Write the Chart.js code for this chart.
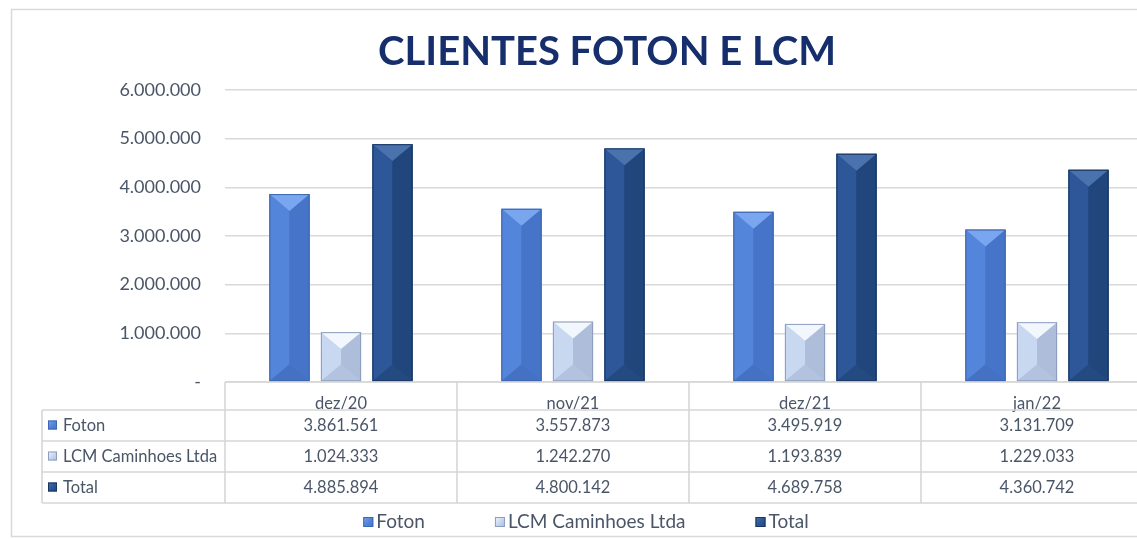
<!DOCTYPE html>
<html><head><meta charset="utf-8">
<style>
html,body{margin:0;padding:0;overflow:hidden;background:#fff;width:1137px;height:539px}
#wrap{position:absolute;left:0;top:0;width:1160px;height:539px}
</style>
<script src="https://cdn.jsdelivr.net/npm/chart.js@4.4.1/dist/chart.umd.min.js"></script>
</head><body>
<div id="wrap"><canvas id="c" width="1160" height="539"></canvas></div>
<script>
const chartTitle = 'CLIENTES FOTON E LCM';
const categories = ['dez/20', 'nov/21', 'dez/21', 'jan/22'];
const seriesNames = ['Foton', 'LCM Caminhoes Ltda', 'Total'];
const fotonValues = [3861561, 3557873, 3495919, 3131709];
const lcmValues = [1024333, 1242270, 1193839, 1229033];
const totalValues = [4885894, 4800142, 4689758, 4360742];
const yMin = 0, yMax = 6000000, yStep = 1000000;

const FONT = 'Lato, Calibri, Carlito, "Open Sans", sans-serif';
const TEXT = '#4a5668';

const faces = [
  {base:'#4a78c8', top:'#7aa6f0', left:'#5385da', right:'#4674c8', bottom:'#4571c2', edge:'#3d66b0'},
  {base:'#b8c7e4', top:'#f2f6fd', left:'#c9d8f1', right:'#aebdd9', bottom:'#b3c2de', edge:'#8c9dbd'},
  {base:'#23497f', top:'#4a72ad', left:'#2d5798', right:'#21467c', bottom:'#244a82', edge:'#17355f'}
];

function fmt(v){
  if (v === 0) return '-';
  return String(Math.round(v)).replace(/\B(?=(\d{3})+(?!\d))/g, '.');
}

function marker(ctx, x, y, s, f){
  const g = ctx.createLinearGradient(x, y, x + s, y + s);
  g.addColorStop(0, f.top); g.addColorStop(0.5, f.left); g.addColorStop(1, f.right);
  ctx.fillStyle = g; ctx.fillRect(x, y, s, s);
  ctx.strokeStyle = f.edge; ctx.lineWidth = 1; ctx.strokeRect(x + 0.5, y + 0.5, s - 1, s - 1);
}

const framePlugin = {
  id: 'frame',
  beforeDraw(chart){
    const ctx = chart.ctx;
    ctx.save();
    ctx.fillStyle = '#fff'; ctx.fillRect(0, 0, chart.width, chart.height);
    ctx.strokeStyle = '#d9d9d9'; ctx.lineWidth = 1.5;
    ctx.strokeRect(11.5, 9.5, chart.width + 20, chart.height - 12);
    ctx.restore();
  },
  afterDraw(chart){
    const ctx = chart.ctx;
    ctx.save();
    ctx.font = 'bold 40px ' + FONT;
    ctx.fillStyle = '#162f6c';
    ctx.textAlign = 'center';
    ctx.textBaseline = 'alphabetic';
    ctx.fillText(chartTitle, 607, 65);
    ctx.restore();
  }
};

const bevelPlugin = {
  id: 'bevel',
  afterDatasetDraw(chart, args){
    const ctx = chart.ctx;
    const f = faces[args.index];
    const meta = args.meta;
    ctx.save();
    meta.data.forEach(bar => {
      const p = bar.getProps(['x','y','base','width'], true);
      const L = p.x - p.width / 2, R = p.x + p.width / 2, C = p.x;
      const T = Math.min(p.y, p.base), B = Math.max(p.y, p.base);
      const d = Math.min(p.width * 0.42, (B - T) / 2);
      const poly = (pts, col) => {
        ctx.beginPath(); ctx.moveTo(pts[0][0], pts[0][1]);
        for (let i = 1; i < pts.length; i++) ctx.lineTo(pts[i][0], pts[i][1]);
        ctx.closePath(); ctx.fillStyle = col; ctx.fill();
      };
      poly([[L,T],[C,T+d],[C,B-d],[L,B]], f.left);
      poly([[R,T],[C,T+d],[C,B-d],[R,B]], f.right);
      poly([[L,B],[R,B],[C,B-d]], f.bottom);
      poly([[L,T],[R,T],[C,T+d]], f.top);
      ctx.strokeStyle = f.edge; ctx.lineWidth = 1;
      ctx.strokeRect(L + 0.5, T + 0.5, p.width - 1, B - T - 1);
    });
    ctx.restore();
  }
};

const tablePlugin = {
  id: 'dataTable',
  afterDraw(chart){
    const ctx = chart.ctx;
    const ca = chart.chartArea;
    const xs = chart.scales.x;
    const n = categories.length;
    const catW = (ca.right - ca.left) / n;
    const tableLeft = 42;
    const r = [ca.bottom, ca.bottom + 28, ca.bottom + 59, ca.bottom + 90, ca.bottom + 121];
    const rows = [fotonValues, lcmValues, totalValues];
    ctx.save();
    ctx.strokeStyle = '#d6d6d6'; ctx.lineWidth = 1.6;
    ctx.beginPath();
    ctx.moveTo(ca.left, r[0]); ctx.lineTo(ca.right + 20, r[0]);
    for (let k = 1; k < r.length; k++){ ctx.moveTo(tableLeft, r[k]); ctx.lineTo(ca.right + 20, r[k]); }
    ctx.moveTo(tableLeft, r[1]); ctx.lineTo(tableLeft, r[4]);
    for (let i = 0; i <= n; i++){ const x = ca.left + i * catW; ctx.moveTo(x, r[0]); ctx.lineTo(x, r[4]); }
    ctx.stroke();
    ctx.font = '16.5px ' + FONT;
    ctx.textBaseline = 'middle';
    rows.forEach((vals, k) => {
      const yc = (r[k + 1] + r[k + 2]) / 2;
      marker(ctx, tableLeft + 6, yc - 5, 9, faces[k]);
      ctx.fillStyle = TEXT;
      ctx.textAlign = 'left';
      ctx.fillText(seriesNames[k], tableLeft + 21, yc);
      ctx.textAlign = 'center';
      vals.forEach((v, i) => ctx.fillText(fmt(v), xs.getPixelForValue(i), yc));
    });
    ctx.restore();
  }
};

const legendPlugin = {
  id: 'customLegend',
  afterDraw(chart){
    const ctx = chart.ctx;
    ctx.save();
    ctx.font = '19px ' + FONT;
    ctx.textBaseline = 'middle';
    ctx.textAlign = 'left';
    const box = 10, gapBox = 3, gapItem = 70;
    const widths = seriesNames.map(s => box + gapBox + ctx.measureText(s).width);
    const totalW = widths.reduce((a, b) => a + b, 0) + gapItem * (widths.length - 1);
    let x = 586 - totalW / 2;
    const y = 522;
    seriesNames.forEach((s, k) => {
      marker(ctx, x, y - 5, box, faces[k]);
      ctx.fillStyle = TEXT;
      ctx.fillText(s, x + box + gapBox, y);
      x += widths[k] + gapItem;
    });
    ctx.restore();
  }
};

const datasets = [fotonValues, lcmValues, totalValues].map((vals, k) => ({
  label: seriesNames[k],
  data: vals,
  backgroundColor: faces[k].base,
  borderWidth: 0,
  categoryPercentage: 0.666,
  barPercentage: 0.78
}));

new Chart(document.getElementById('c'), {
  type: 'bar',
  data: { labels: categories, datasets },
  options: {
    responsive: false,
    animation: false,
    layout: { padding: { left: 20, right: 7, top: 90, bottom: 36 } },
    plugins: { legend: { display: false }, title: { display: false }, tooltip: { enabled: false } },
    scales: {
      x: {
        grid: { display: false },
        border: { display: false },
        ticks: { color: TEXT, font: { family: FONT, size: 16.5 }, padding: 4, maxRotation: 0 },
        afterFit(scale){ scale.height = 121; }
      },
      y: {
        min: yMin, max: yMax,
        grid: { color: '#d9d9d9', lineWidth: 1.5, drawTicks: false },
        border: { display: false },
        ticks: { stepSize: yStep, color: TEXT, font: { family: FONT, size: 18 }, padding: 24, callback: v => fmt(v) },
        afterFit(scale){ scale.width = 205; }
      }
    }
  },
  plugins: [framePlugin, bevelPlugin, tablePlugin, legendPlugin]
});
</script>
</body></html>
